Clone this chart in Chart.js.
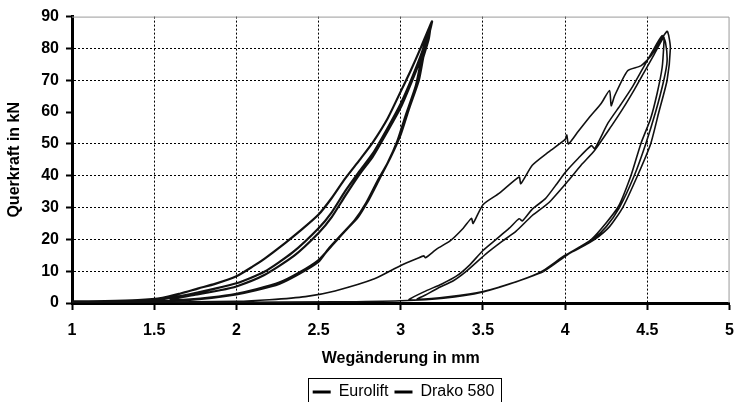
<!DOCTYPE html>
<html>
<head>
<meta charset="utf-8">
<script src="https://cdn.jsdelivr.net/npm/chart.js@4"></script>
<style>
  html, body { margin: 0; padding: 0; background: #fff; overflow: hidden; }
  #wrap { width: 745px; height: 410px; }
</style>
</head>
<body>
<div id="wrap"><canvas id="grafico"></canvas></div>
<script>
// Eurolift: left loop, 3 load cycles (Weg in mm / Querkraft in kN)
const euroliftX = [1.00,1.20,1.40,1.55,1.66,1.77,1.87,2.00,2.10,2.17,2.30,2.40,2.50,2.58,2.66,2.75,2.83,2.92,3.00,3.06,3.12,3.19,
  3.17,3.14,3.11,3.05,3.00,2.94,2.88,2.81,2.74,2.66,2.58,2.50,2.38,2.26,2.12,2.00,1.85,1.70,1.55,
  1.45,1.55,1.70,1.85,2.00,2.17,2.34,2.50,2.58,2.66,2.75,2.83,2.92,3.00,3.07,3.13,3.18,
  3.17,3.13,3.10,3.04,2.99,2.93,2.87,2.80,2.73,2.65,2.57,2.50,2.38,2.26,2.12,2.00,1.85,1.70,
  1.60,1.75,1.90,2.00,2.17,2.35,2.50,2.58,2.66,2.75,2.83,2.92,3.00,3.07,3.13,3.18,
  3.16,3.12,3.09,3.03,2.98,2.92,2.86,2.79,2.72,2.64,2.56,2.50,2.38,2.26,2.12,2.00,1.85,1.70,1.50,1.30,1.00];
const euroliftY = [0.5,0.6,0.9,1.6,3.0,4.6,6.0,8.4,11.5,13.9,19.0,23.2,27.8,33.0,39.0,45.0,50.5,58.0,66.5,73.0,80.0,88.5,
  84.0,78.0,70.0,61.0,53.0,46.0,40.0,33.0,27.0,22.6,18.0,13.5,9.5,6.4,4.3,2.9,1.8,1.1,0.7,
  0.9,1.3,2.6,4.3,6.2,9.8,15.8,23.5,28.5,35.0,41.5,47.0,55.0,62.7,71.0,79.0,87.0,
  83.0,76.0,69.0,60.0,52.0,45.0,39.0,32.0,26.5,22.0,17.5,13.2,9.3,6.2,4.1,2.8,1.7,1.0,
  1.2,2.6,4.0,5.2,8.8,14.8,22.0,27.0,33.5,40.5,46.0,54.0,61.5,70.0,78.0,86.5,
  82.0,75.0,68.0,59.0,51.0,44.0,38.5,31.5,26.0,21.5,17.0,13.0,9.1,6.0,4.0,2.7,1.6,0.9,0.5,0.3,0.2];

// Drako 580: right loop, first cycle with the stepped rise
const drakoX = [1.00,1.50,2.00,2.20,2.42,2.60,2.84,3.00,3.10,3.14,3.15,3.22,3.30,3.38,3.43,3.44,3.50,3.60,3.72,3.73,3.80,3.90,4.00,4.01,4.02,4.08,4.15,4.22,4.27,4.28,4.30,4.38,4.46,4.52,4.58,4.62,
  4.63,4.64,4.62,4.57,4.52,4.44,4.35,4.27,4.18,4.08,4.02,3.87,3.72,3.60,3.50,3.35,3.20,3.05,
  3.14,3.25,3.34,3.42,3.50,3.58,3.66,3.72,3.74,3.80,3.88,3.95,4.00,4.08,4.16,4.18,4.26,4.34,4.41,4.47,4.53,4.59,
  4.61,4.62,4.60,4.55,4.49,4.42,4.33,4.25,4.17,4.08,4.00,3.86,3.72,3.50,3.30,3.10,
  3.15,3.22,3.32,3.40,3.52,3.62,3.70,3.80,3.90,4.02,4.10,4.18,4.28,4.35,4.42,4.48,4.54,4.60,
  4.60,4.59,4.56,4.52,4.46,4.40,4.32,4.16,4.00,3.86,3.72,3.50,3.26,3.00,2.60,2.00,1.50,1.00];
const drakoY = [0.2,0.3,0.5,1.0,2.0,3.8,7.6,11.8,14.0,14.8,14.2,17.0,19.5,23.5,26.6,25.0,30.9,34.5,39.6,37.5,43.3,47.5,51.4,52.8,50.0,54.0,58.5,62.8,66.8,62.0,65.0,73.0,74.5,77.5,82.5,85.4,
  84.0,80.0,70.0,60.0,50.0,40.0,30.0,24.0,20.0,17.0,15.4,10.0,7.0,5.0,3.5,2.2,1.4,1.0,
  3.5,6.0,8.5,12.0,16.5,20.0,23.5,26.5,25.8,29.5,32.8,37.5,41.0,45.5,49.5,48.5,56.5,62.5,68.0,73.5,79.0,84.0,
  82.0,76.0,70.0,60.0,50.0,40.0,30.0,24.0,20.0,17.0,15.0,10.0,7.0,3.6,2.0,1.2,
  2.5,4.5,7.0,10.0,15.5,19.5,22.5,27.5,31.5,38.5,43.5,48.0,55.5,61.0,67.0,72.5,78.0,83.5,
  81.0,74.0,66.0,58.0,50.0,40.0,30.0,20.0,15.0,10.0,7.0,3.5,1.5,0.7,0.35,0.2,0.15,0.1];

const serieNames = ['Eurolift', 'Drako 580'];
const xTicks = [1, 1.5, 2, 2.5, 3, 3.5, 4, 4.5, 5];
const yTicks = [0, 10, 20, 30, 40, 50, 60, 70, 80, 90];

const pontos = (xs, ys) => xs.map((x, i) => ({ x: x, y: ys[i] }));

const fonte = 'Liberation Sans, Arial, sans-serif';
Chart.defaults.font.family = fonte;
Chart.defaults.color = '#000';

const legendaShift = 33; // legenda centrada sob a área do gráfico

// moldura cinza do gráfico + caixa da legenda
const molduraPlugin = {
  id: 'moldura',
  afterLayout(chart) {
    const lg = chart.legend;
    lg.left += legendaShift;
    lg.right += legendaShift;
    lg.legendHitBoxes.forEach(b => { b.left += legendaShift; });
  },
  afterDraw(chart) {
    const { ctx, chartArea } = chart;
    ctx.save();
    ctx.strokeStyle = '#9a9a9a';
    ctx.lineWidth = 1;
    ctx.beginPath();
    ctx.moveTo(chartArea.left, chartArea.top + 0.5);
    ctx.lineTo(chartArea.right - 0.5, chartArea.top + 0.5);
    ctx.lineTo(chartArea.right - 0.5, chartArea.bottom);
    ctx.stroke();

    const boxes = chart.legend.legendHitBoxes;
    if (boxes && boxes.length) {
      const l = Math.min(...boxes.map(b => b.left)) - 5;
      const r = Math.max(...boxes.map(b => b.left + b.width)) + 6;
      const t = Math.min(...boxes.map(b => b.top)) - 6;
      ctx.strokeStyle = '#000';
      ctx.lineWidth = 1;
      ctx.strokeRect(Math.round(l) + 0.5, Math.round(t) + 0.5, Math.round(r - l), 420 - Math.round(t));
    }
    ctx.restore();
  }
};

const ctx = document.getElementById('grafico').getContext('2d');
const grafico = new Chart(ctx, {
  type: 'scatter',
  data: {
    datasets: [
      {
        label: serieNames[0],
        data: pontos(euroliftX, euroliftY),
        showLine: true,
        borderColor: '#111',
        backgroundColor: '#111',
        borderWidth: 2.2,
        pointRadius: 0,
        tension: 0.2
      },
      {
        label: serieNames[1],
        data: pontos(drakoX, drakoY),
        showLine: true,
        borderColor: '#111',
        backgroundColor: '#111',
        borderWidth: 1.6,
        pointRadius: 0,
        tension: 0.2
      }
    ]
  },
  options: {
    responsive: true,
    maintainAspectRatio: false,
    animation: false,
    layout: { autoPadding: false, padding: { top: 12, right: 4, left: 0, bottom: 0 } },
    scales: {
      x: {
        type: 'linear',
        min: 1,
        max: 5,
        afterBuildTicks: s => { s.ticks = xTicks.map(v => ({ value: v })); },
        afterFit: s => { s.height = 75; },
        ticks: {
          font: { size: 16, weight: 'bold' },
          padding: 11,
          maxRotation: 0,
          callback: v => String(v)
        },
        grid: {
          color: c => (c.tick && c.tick.value === 5) ? 'rgba(0,0,0,0)' : '#000',
          lineWidth: 1,
          tickColor: '#000',
          tickWidth: 2,
          tickLength: 7
        },
        border: { display: true, color: '#000', width: 3, dash: [2, 2] },
        title: {
          display: true,
          text: 'Wegänderung in mm',
          font: { size: 16, weight: 'bold' },
          padding: { top: 0, bottom: 10 }
        }
      },
      y: {
        min: 0,
        max: 90,
        afterBuildTicks: s => { s.ticks = yTicks.map(v => ({ value: v })); },
        afterFit: s => { s.width = 72; },
        ticks: { font: { size: 16, weight: 'bold' }, padding: 7, callback: v => String(v) },
        grid: {
          color: c => (c.tick && (c.tick.value === 90 || c.tick.value === 60)) ? 'rgba(0,0,0,0)' : '#000',
          lineWidth: 1,
          tickColor: '#000',
          tickWidth: 2,
          tickLength: 6
        },
        border: { display: true, color: '#000', width: 3, dash: [2, 2] },
        title: {
          display: true,
          text: 'Querkraft in kN',
          font: { size: 16, weight: 'bold' },
          padding: { top: 5, bottom: 0 }
        }
      }
    },
    plugins: {
      legend: {
        position: 'bottom',
        labels: {
          font: { size: 16 },
          boxWidth: 18,
          boxHeight: 3,
          padding: 6,
          color: '#000',
          generateLabels(chart) {
            const items = Chart.defaults.plugins.legend.labels.generateLabels(chart);
            items.forEach(it => { it.lineWidth = 0; it.fillStyle = '#000'; });
            return items;
          }
        }
      },
      tooltip: { enabled: false }
    }
  },
  plugins: [molduraPlugin]
});
</script>
</body>
</html>
